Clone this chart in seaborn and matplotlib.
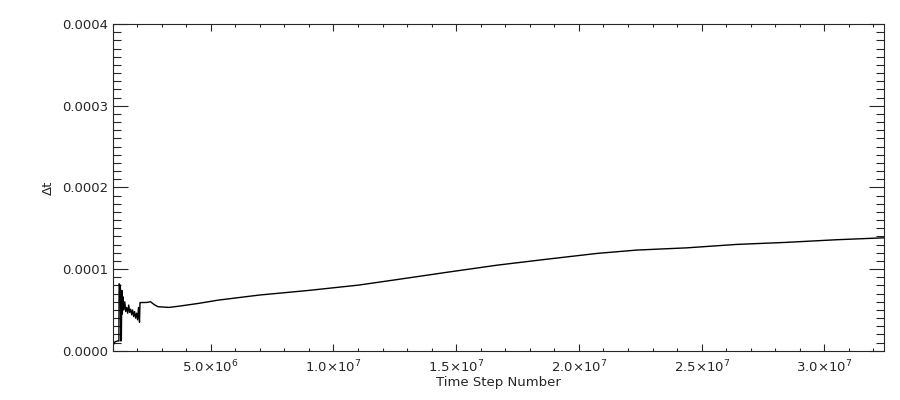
import numpy as np
import pandas as pd
import seaborn as sns
import matplotlib
matplotlib.use("Agg")
import matplotlib.pyplot as plt
from matplotlib.ticker import MultipleLocator, FuncFormatter

# time step number (millions) and dt (1e-5)
step_m = [1.00, 1.05, 1.10, 1.20, 1.26, 1.27, 1.32, 1.34, 1.36, 1.38,
          1.40, 1.43, 1.46, 1.50, 1.54, 1.58, 1.62, 1.66, 1.70, 1.74,
          1.78, 1.82, 1.86, 1.90, 1.94, 1.98, 2.02, 2.06, 2.10, 2.12,
          2.40, 2.55, 2.70, 2.85, 3.30, 3.73, 4.50, 5.30, 6.97, 8.99,
          11.02, 12.64, 14.67, 16.69, 18.72, 20.74, 22.36, 24.39, 26.42,
          28.44, 30.47, 32.42]
dt_e5 = [1.0, 0.8, 1.1, 1.2, 1.2, 8.2, 8.0, 1.2, 1.3, 7.4,
         4.5, 6.6, 5.0, 6.0, 4.8, 5.3, 4.6, 5.6, 4.7, 5.1,
         4.4, 5.0, 4.2, 4.8, 4.0, 4.6, 3.8, 5.3, 3.5, 5.9,
         5.92, 6.0, 5.65, 5.40, 5.31, 5.47, 5.8, 6.2, 6.82, 7.39,
         8.04, 8.74, 9.63, 10.49, 11.22, 11.92, 12.33, 12.60, 13.02,
         13.27, 13.59, 13.83]

df = pd.DataFrame({"step": np.array(step_m) * 1e6,
                   "dt": np.array(dt_e5) * 1e-5})

sns.set_style("ticks")
plt.rcParams["font.family"] = ["DejaVu Sans"]

fig = plt.figure(figsize=(9, 4), dpi=100)
ax = fig.add_axes([0.125, 0.123, 0.857, 0.817])

sns.lineplot(data=df, x="step", y="dt", color="black", linewidth=1.0,
             sort=False, estimator=None, ax=ax)

ax.set_xlim(1e6, 3.242e7)
ax.set_ylim(0, 0.0004)

ax.xaxis.set_major_locator(MultipleLocator(5e6))
ax.xaxis.set_minor_locator(MultipleLocator(1e6))
ax.yaxis.set_major_locator(MultipleLocator(1e-4))
ax.yaxis.set_minor_locator(MultipleLocator(1e-5))


def sci(v, pos):
    if v == 0:
        return "0"
    e = int(np.floor(np.log10(abs(v))))
    return "%.1f\u00d710$^{%d}$" % (v / 10 ** e, e)


ax.xaxis.set_major_formatter(FuncFormatter(sci))
ax.yaxis.set_major_formatter(FuncFormatter(lambda v, p: "%.4f" % v))

ax.tick_params(axis="x", which="major", direction="in", length=4.8, width=0.8,
               top=True, bottom=True, labelsize=9.5, pad=6)
ax.tick_params(axis="x", which="minor", direction="in", length=2.4, width=0.8,
               top=True, bottom=True)
ax.tick_params(axis="y", which="major", direction="in", length=11, width=0.8,
               left=True, right=True, labelsize=9.5, pad=3)
ax.tick_params(axis="y", which="minor", direction="in", length=5.5, width=0.8,
               left=True, right=True)
for s in ax.spines.values():
    s.set_linewidth(0.8)
    s.set_visible(True)

ax.set_xlabel("Time Step Number", fontsize=9.5, labelpad=0)
ax.set_ylabel("\u0394t", fontsize=9.5, labelpad=5)

fig.savefig("out.png", dpi=100, facecolor="white")
